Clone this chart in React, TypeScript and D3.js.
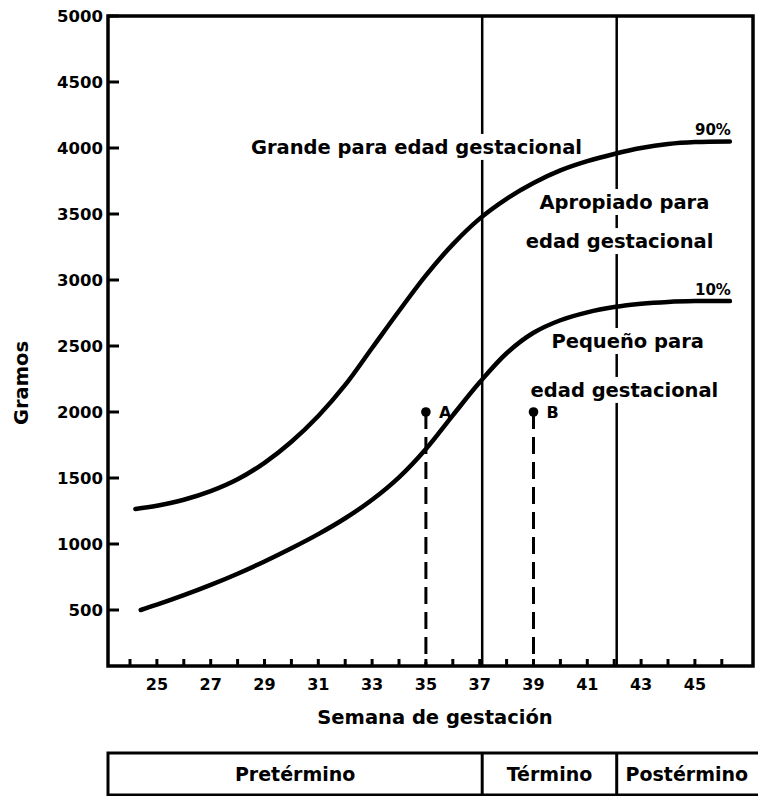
import React, { useEffect, useRef } from 'react';
import * as d3 from 'd3';

// 90th percentile curve (week of gestation, grams)
const weeks90 = [24.2, 25, 26, 27, 28, 29, 30, 31, 32, 33, 34, 35, 36, 37, 38, 39, 40, 41, 42, 43, 44, 45, 46.3];
const grams90 = [1265, 1290, 1335, 1400, 1490, 1615, 1775, 1970, 2205, 2485, 2765, 3035, 3270, 3465, 3615, 3735, 3830, 3900, 3955, 4000, 4030, 4045, 4050];

// 10th percentile curve
const weeks10 = [24.4, 25, 26, 27, 28, 29, 30, 31, 32, 33, 34, 35, 36, 37, 38, 39, 40, 41, 42, 43, 44, 45, 46.3];
const grams10 = [500, 540, 612, 690, 775, 868, 968, 1075, 1195, 1335, 1505, 1720, 1975, 2225, 2445, 2600, 2695, 2755, 2795, 2820, 2834, 2840, 2840];

const xTickWeeks = d3.range(24, 47);
const xTickLabels = [25, 27, 29, 31, 33, 35, 37, 39, 41, 43, 45];
const yTickLabels = [500, 1000, 1500, 2000, 2500, 3000, 3500, 4000, 4500, 5000];
const boundaryWeeks = [37, 42];
const caseLabels = ['A', 'B'];
const caseWeeks = [35, 39];
const caseGrams = [2000, 2000];
const zoneTexts = ['Grande para edad gestacional', 'Apropiado para', 'edad gestacional', 'Pequeño para', 'edad gestacional'];
const zoneWeeks = [34.65, 42.38, 42.2, 42.5, 42.38];
const zoneGrams = [3955, 3538, 3242, 2485, 2114];
const percentileLabels = ['90%', '10%'];
const periodLabels = ['Pretérmino', 'Término', 'Postérmino'];

const FONT = '"DejaVu Sans", sans-serif';

export default function App() {
  const ref = useRef<SVGSVGElement | null>(null);

  useEffect(() => {
    const svg = d3.select(ref.current);
    svg.selectAll('*').remove();

    const x = d3.scaleLinear().domain([24, 46]).range([130, 130 + 22 * 26.9]);
    const y = d3.scaleLinear().domain([0, 5000]).range([676, 16]);

    const left = 108;
    const right = 753;
    const top = y(5000);
    const bottom = 666;

    const g = svg.append('g');

    // vertical boundary lines
    g.selectAll('line.bound')
      .data(boundaryWeeks)
      .enter()
      .append('line')
      .attr('x1', (d) => x(d) + 2.5)
      .attr('x2', (d) => x(d) + 2.5)
      .attr('y1', top)
      .attr('y2', bottom)
      .attr('stroke', '#000')
      .attr('stroke-width', 2.5);

    // zone labels with white backgrounds
    const zoneG = g.append('g');
    zoneTexts.forEach((t, i) => {
      const tg = zoneG.append('g');
      const txt = tg
        .append('text')
        .attr('x', x(zoneWeeks[i]))
        .attr('y', y(zoneGrams[i]))
        .attr('text-anchor', 'middle')
        .attr('font-family', FONT)
        .attr('font-weight', 'bold')
        .attr('font-size', 19.5)
        .attr('fill', '#000')
        .text(t);
      const bb = (txt.node() as SVGTextElement).getBBox();
      tg.insert('rect', 'text')
        .attr('x', bb.x - 3)
        .attr('y', bb.y - 2)
        .attr('width', bb.width + 6)
        .attr('height', bb.height + 3)
        .attr('fill', '#fff');
    });

    // dashed case lines
    caseWeeks.forEach((w, i) => {
      g.append('line')
        .attr('x1', x(w))
        .attr('x2', x(w))
        .attr('y1', y(caseGrams[i]))
        .attr('y2', bottom)
        .attr('stroke', '#000')
        .attr('stroke-width', 3)
        .attr('stroke-dasharray', '17 8');
      g.append('circle')
        .attr('cx', x(w))
        .attr('cy', y(caseGrams[i]))
        .attr('r', 4.8)
        .attr('fill', '#000');
      g.append('text')
        .attr('x', x(w) + 13)
        .attr('y', y(caseGrams[i]) + 6)
        .attr('font-family', FONT)
        .attr('font-weight', 'bold')
        .attr('font-size', 16)
        .text(caseLabels[i]);
    });

    // curves
    const line = d3
      .line<[number, number]>()
      .x((d) => x(d[0]))
      .y((d) => y(d[1]))
      .curve(d3.curveCatmullRom.alpha(0.5));
    const series = [
      weeks90.map((w, i) => [w, grams90[i]] as [number, number]),
      weeks10.map((w, i) => [w, grams10[i]] as [number, number]),
    ];
    g.selectAll('path.curve')
      .data(series)
      .enter()
      .append('path')
      .attr('d', (d) => line(d) as string)
      .attr('fill', 'none')
      .attr('stroke', '#000')
      .attr('stroke-width', 4.5)
      .attr('stroke-linecap', 'round');

    // percentile labels
    const lastPts = [
      [weeks90[weeks90.length - 1], grams90[grams90.length - 1]],
      [weeks10[weeks10.length - 1], grams10[grams10.length - 1]],
    ];
    percentileLabels.forEach((t, i) => {
      g.append('text')
        .attr('x', x(lastPts[i][0]) + 1)
        .attr('y', y(lastPts[i][1]) - 6)
        .attr('text-anchor', 'end')
        .attr('font-family', FONT)
        .attr('font-weight', 'bold')
        .attr('font-size', 15)
        .text(t);
    });

    // frame
    g.append('rect')
      .attr('x', left)
      .attr('y', top)
      .attr('width', right - left)
      .attr('height', bottom - top)
      .attr('fill', 'none')
      .attr('stroke', '#000')
      .attr('stroke-width', 3.5);

    // y ticks
    g.selectAll('line.yt')
      .data(yTickLabels)
      .enter()
      .append('line')
      .attr('x1', left)
      .attr('x2', left + 11)
      .attr('y1', (d) => y(d))
      .attr('y2', (d) => y(d))
      .attr('stroke', '#000')
      .attr('stroke-width', 3);
    g.selectAll('text.yl')
      .data(yTickLabels)
      .enter()
      .append('text')
      .attr('x', left - 5)
      .attr('y', (d) => y(d))
      .attr('dy', '0.36em')
      .attr('text-anchor', 'end')
      .attr('font-family', FONT)
      .attr('font-weight', 'bold')
      .attr('font-size', 16.5)
      .text((d) => String(d));

    // x ticks
    g.selectAll('line.xt')
      .data(xTickWeeks)
      .enter()
      .append('line')
      .attr('x1', (d) => x(d))
      .attr('x2', (d) => x(d))
      .attr('y1', bottom)
      .attr('y2', bottom - 7)
      .attr('stroke', '#000')
      .attr('stroke-width', 3);
    g.selectAll('text.xl')
      .data(xTickLabels)
      .enter()
      .append('text')
      .attr('x', (d) => x(d))
      .attr('y', bottom + 24)
      .attr('text-anchor', 'middle')
      .attr('font-family', FONT)
      .attr('font-weight', 'bold')
      .attr('font-size', 16)
      .text((d) => String(d));

    // axis titles
    g.append('text')
      .attr('x', 435)
      .attr('y', 724)
      .attr('text-anchor', 'middle')
      .attr('font-family', FONT)
      .attr('font-weight', 'bold')
      .attr('font-size', 19.5)
      .text('Semana de gestación');
    g.append('text')
      .attr('transform', 'translate(28,383) rotate(-90)')
      .attr('text-anchor', 'middle')
      .attr('font-family', FONT)
      .attr('font-weight', 'bold')
      .attr('font-size', 19.5)
      .text('Gramos');

    // period table
    const tTop = 753;
    const tBottom = 795;
    const tRight = 762;
    g.append('rect')
      .attr('x', left)
      .attr('y', tTop)
      .attr('width', tRight - left)
      .attr('height', tBottom - tTop)
      .attr('fill', 'none')
      .attr('stroke', '#000')
      .attr('stroke-width', 3);
    const edges = [left, x(boundaryWeeks[0]) + 2.5, x(boundaryWeeks[1]) + 2.5, right + 4];
    g.selectAll('line.div')
      .data(boundaryWeeks)
      .enter()
      .append('line')
      .attr('x1', (d) => x(d) + 2.5)
      .attr('x2', (d) => x(d) + 2.5)
      .attr('y1', tTop)
      .attr('y2', tBottom)
      .attr('stroke', '#000')
      .attr('stroke-width', 3);
    periodLabels.forEach((t, i) => {
      g.append('text')
        .attr('x', (edges[i] + edges[i + 1]) / 2)
        .attr('y', 781)
        .attr('text-anchor', 'middle')
        .attr('font-family', FONT)
        .attr('font-weight', 'bold')
        .attr('font-size', 19)
        .text(t);
    });
  }, []);

  return (
    <svg
      ref={ref}
      width={758}
      height={796}
      style={{ position: 'absolute', left: 0, top: 0, background: '#fff' }}
    />
  );
}
